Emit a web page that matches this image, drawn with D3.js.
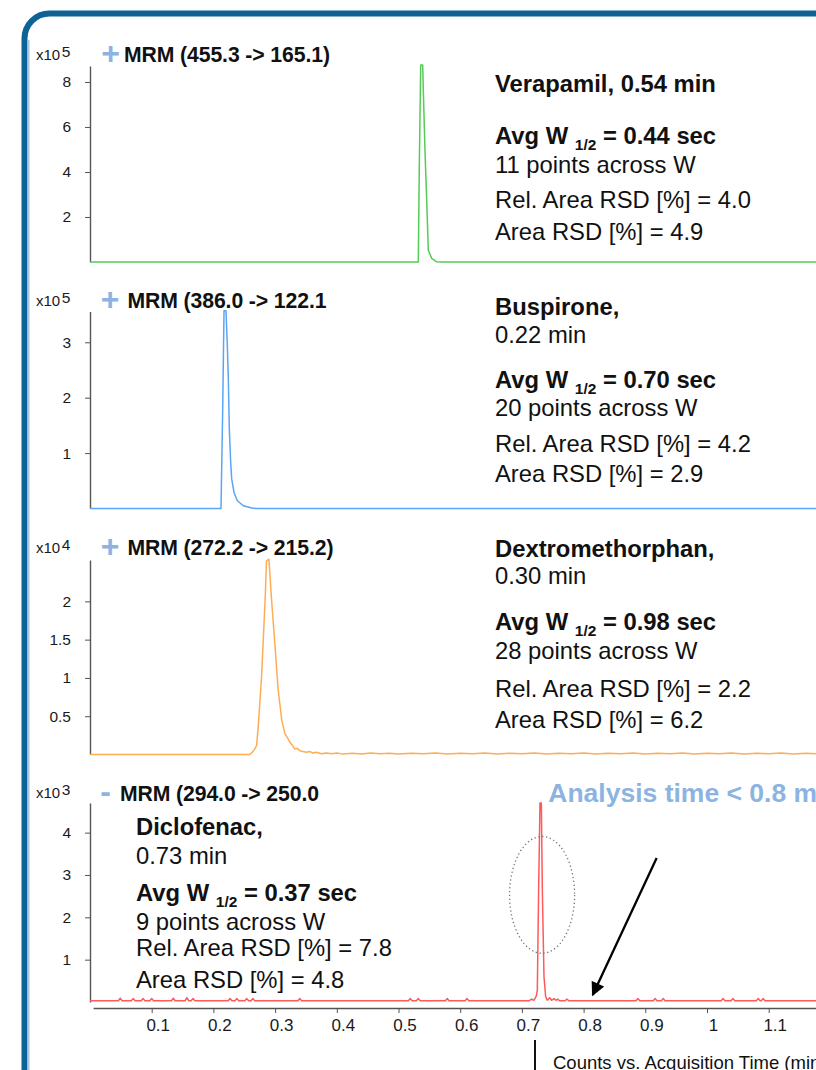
<!DOCTYPE html>
<html><head><meta charset="utf-8">
<script src="https://cdn.jsdelivr.net/npm/d3@7"></script>
<style>body{margin:0;background:#fff}svg{display:block}</style>
</head><body><svg id="c" width="816" height="1070"></svg>
<script>
const FONT = '"Liberation Sans", Arial, Helvetica, sans-serif';

// ---- data ----
const xTicks = [0.1, 0.2, 0.3, 0.4, 0.5, 0.6, 0.7, 0.8, 0.9, 1, 1.1];
const transitions = ["MRM (455.3 -> 165.1)", "MRM (386.0 -> 122.1", "MRM (272.2 -> 215.2)", "MRM (294.0 -> 250.0"];
const polarity = ["+", "+", "+", "-"];
const exponents = ["5", "5", "4", "3"];
const yTicks = [[2, 4, 6, 8], [1, 2, 3], [0.5, 1, 1.5, 2], [1, 2, 3, 4]];
const yMax = [8.71, 3.556, 2.54, 4.70];
const lineColors = ["#55cc55", "#5aa5f5", "#ffad55", "#ff5a5a"];

const verapamil = [[0, 0], [0.5321, 0], [0.5337, 4.24], [0.5360, 8.76], [0.5392, 8.76], [0.5402, 7.64],
  [0.5429, 4.98], [0.5457, 2.76], [0.5483, 0.53], [0.5538, 0.16], [0.5619, 0.01], [0.57, 0], [1.2, 0]];

const buspirone = [[0, 0], [0.2123, 0], [0.2150, 1.74], [0.2172, 3.57], [0.2204, 3.57], [0.2226, 2.94],
  [0.2242, 2.34], [0.2258, 1.44], [0.2280, 0.83], [0.2297, 0.53], [0.2334, 0.29], [0.2388, 0.14],
  [0.2485, 0.05], [0.2621, 0.01], [0.27, 0], [1.2, 0]];

const dextromethorphan = [[0, 0], [0.259, 0], [0.263, 0.03], [0.267, 0.07], [0.270, 0.12], [0.273, 0.40],
  [0.278, 1.01], [0.284, 2.05], [0.286, 2.53], [0.290, 2.55], [0.294, 2.05], [0.300, 1.40], [0.305, 0.84],
  [0.311, 0.44], [0.316, 0.27], [0.320, 0.22], [0.324, 0.16], [0.328, 0.12], [0.332, 0.07], [0.336, 0.08],
  [0.340, 0.05], [0.345, 0.04], [0.351, 0.03], [0.356, 0.04], [0.361, 0.02], [0.367, 0.03], [0.375, 0.01],
  [0.383, 0.02], [0.392, 0.01], [0.40, 0.02], [0.41, 0.005], [0.425, 0.015], [0.44, 0.005], [0.455, 0.02],
  [0.47, 0.01], [0.485, 0.015], [0.5, 0.005], [0.52, 0.015], [0.54, 0.01], [0.56, 0.02], [0.58, 0.005],
  [0.6, 0.015], [0.62, 0.01], [0.64, 0.02], [0.66, 0.005], [0.68, 0.015], [0.7, 0.01], [0.72, 0.02],
  [0.74, 0.005], [0.76, 0.015], [0.78, 0.01], [0.8, 0.02], [0.82, 0.005], [0.84, 0.015], [0.86, 0.01],
  [0.88, 0.02], [0.9, 0.005], [0.92, 0.015], [0.94, 0.01], [0.96, 0.02], [0.98, 0.005], [1.0, 0.015],
  [1.02, 0.01], [1.04, 0.02], [1.06, 0.005], [1.08, 0.015], [1.1, 0.01], [1.12, 0.02], [1.14, 0.005],
  [1.16, 0.015], [1.18, 0.01], [1.2, 0.015]];

const diclofenac = [[0, 0.03], [0.046, 0.03], [0.049, 0.09], [0.052, 0.03], [0.067, 0.03], [0.070, 0.08],
  [0.073, 0.03], [0.083, 0.03], [0.086, 0.08], [0.089, 0.03], [0.097, 0.03], [0.100, 0.08], [0.103, 0.03],
  [0.132, 0.03], [0.135, 0.09], [0.138, 0.03], [0.154, 0.03], [0.157, 0.10], [0.160, 0.03], [0.164, 0.03],
  [0.167, 0.08], [0.170, 0.03], [0.224, 0.03], [0.227, 0.08], [0.230, 0.03], [0.235, 0.03], [0.238, 0.08],
  [0.241, 0.03], [0.251, 0.03], [0.254, 0.08], [0.257, 0.03], [0.261, 0.03], [0.264, 0.08], [0.267, 0.03],
  [0.337, 0.03], [0.340, 0.08], [0.343, 0.03], [0.516, 0.03], [0.519, 0.08], [0.522, 0.03], [0.529, 0.03],
  [0.532, 0.08], [0.535, 0.03], [0.576, 0.03], [0.579, 0.08], [0.582, 0.03], [0.608, 0.03], [0.611, 0.08],
  [0.614, 0.03], [0.712, 0.03], [0.716, 0.07], [0.719, 0.04], [0.7212, 0.08], [0.7235, 0.15], [0.725, 0.28],
  [0.7271, 2.65], [0.7293, 4.70], [0.7315, 4.70], [0.7331, 2.65], [0.7358, 0.60], [0.7385, 0.13],
  [0.741, 0.04], [0.745, 0.10], [0.748, 0.04], [0.752, 0.08], [0.755, 0.04], [0.758, 0.07], [0.761, 0.03],
  [0.770, 0.03], [0.773, 0.07], [0.776, 0.03], [0.885, 0.03], [0.888, 0.08], [0.891, 0.03], [0.913, 0.03],
  [0.916, 0.08], [0.919, 0.03], [0.926, 0.03], [0.929, 0.08], [0.932, 0.03], [1.023, 0.03], [1.026, 0.08],
  [1.029, 0.03], [1.039, 0.03], [1.042, 0.08], [1.045, 0.03], [1.080, 0.03], [1.083, 0.08], [1.086, 0.03],
  [1.088, 0.03], [1.091, 0.08], [1.094, 0.03], [1.2, 0.03]];

const series = [verapamil, buspirone, dextromethorphan, diclofenac];

const verapamilText = ["Verapamil, 0.54 min", ["Avg W ", "1/2", " = 0.44 sec"], "11 points across W", "Rel. Area RSD [%] = 4.0", "Area RSD [%] = 4.9"];
const buspironeText = ["Buspirone,", "0.22 min", ["Avg W ", "1/2", " = 0.70 sec"], "20 points across W", "Rel. Area RSD [%] = 4.2", "Area RSD [%] = 2.9"];
const dextroText = ["Dextromethorphan,", "0.30 min", ["Avg W ", "1/2", " = 0.98 sec"], "28 points across W", "Rel. Area RSD [%] = 2.2", "Area RSD [%] = 6.2"];
const diclofenacText = ["Diclofenac,", "0.73 min", ["Avg W ", "1/2", " = 0.37 sec"], "9 points across W", "Rel. Area RSD [%] = 7.8", "Area RSD [%] = 4.8"];
const panelTexts = [verapamilText, buspironeText, dextroText, diclofenacText];

// ---- layout ----
const panelZero = [262, 508.5, 754.5, 1002];
const panelTop = [66, 311.5, 560, 803];
const titleX = [124, 127.5, 127.5, 120];
const titleY = [62, 308, 555, 800.5];
const polX = [110.5, 110, 110, 105.5];
const expY = [60, 306, 553, 798];
const textX = [495, 495, 495, 136];
const textY = [[92, 144, 173, 208, 240], [315, 343, 388, 416, 452, 482], [557, 584, 630, 659, 697, 728], [835, 864, 901, 930, 956, 988]];

const svg = d3.select("#c");
svg.append("rect").attr("width", 816).attr("height", 1070).attr("fill", "#fff");

// frame
svg.append("rect").attr("x", 24.5).attr("y", 13.5).attr("width", 900).attr("height", 1200)
  .attr("rx", 25).attr("fill", "none").attr("stroke", "#0d6296").attr("stroke-width", 6);
svg.append("line").attr("x1", 28.5).attr("x2", 28.5).attr("y1", 40).attr("y2", 1070)
  .attr("stroke", "#a9c8e2").attr("stroke-width", 2);

const x = d3.scaleLinear().domain([0, 1.2]).range([90, 830.4]);

series.forEach((data, i) => {
  const y = d3.scaleLinear().domain([0, yMax[i]]).range([panelZero[i], panelTop[i]]);
  const g = svg.append("g");
  // y axis
  const ax = g.append("g").attr("transform", `translate(${x(0)},0)`)
    .call(d3.axisLeft(y).tickValues(yTicks[i]).tickSize(5).tickSizeOuter(0).tickPadding(14).tickFormat(d3.format("~g")));
  ax.select(".domain").attr("stroke", "#555").attr("stroke-width", 1.4);
  ax.selectAll(".tick line").attr("stroke", "#555");
  ax.selectAll(".tick text").attr("font-family", FONT).attr("font-size", 15.5).attr("fill", "#1a1a1a");
  // exponent label
  const ex = g.append("text").attr("x", 36).attr("y", expY[i]).attr("font-family", FONT).attr("fill", "#1a1a1a");
  ex.append("tspan").attr("font-size", 15).text("x10");
  ex.append("tspan").attr("font-size", 15.5).attr("dy", -3).attr("dx", 1.5).text(exponents[i]);
  // polarity + title
  g.append("text").attr("x", polX[i]).attr("y", titleY[i] + 1.5).attr("text-anchor", "middle")
    .attr("font-family", FONT).attr("font-weight", "bold").attr("font-size", 32).attr("fill", "#8db3e2").text(polarity[i]);
  g.append("text").attr("x", titleX[i]).attr("y", titleY[i]).attr("font-family", FONT)
    .attr("font-weight", "bold").attr("font-size", 21.2).attr("letter-spacing", -0.1).attr("fill", "#111").text(transitions[i]);
  // trace
  g.append("path").datum(data).attr("fill", "none").attr("stroke", lineColors[i]).attr("stroke-width", 1.5)
    .attr("stroke-linejoin", "round")
    .attr("d", d3.line().x(d => x(d[0])).y(d => y(d[1])));
  // annotation text
  panelTexts[i].forEach((ln, j) => {
    const bold = (j === 0) || Array.isArray(ln);
    const t = g.append("text").attr("x", textX[i]).attr("y", textY[i][j]).attr("font-family", FONT)
      .attr("font-size", 23.8).attr("fill", "#111").attr("font-weight", bold ? "bold" : "normal");
    if (Array.isArray(ln)) {
      t.append("tspan").text(ln[0]);
      t.append("tspan").attr("font-size", 15.5).attr("dy", 6).text(ln[1]);
      t.append("tspan").attr("dy", -6).text(ln[2]);
    } else t.text(ln);
  });
});

// x axis
const xa = x.copy().domain([0.005, 1.2]).range([x(0.005), x(1.2)]);
const xAxis = svg.append("g").attr("transform", "translate(0,1008)")
  .call(d3.axisBottom(xa).tickValues(xTicks).tickSize(5).tickSizeOuter(0).tickPadding(6).tickFormat(d3.format("~g")));
xAxis.select(".domain").attr("stroke", "#555").attr("stroke-width", 1.4);
xAxis.selectAll(".tick line").attr("stroke", "#555");
xAxis.selectAll(".tick text").attr("font-family", FONT).attr("font-size", 17).attr("fill", "#1a1a1a").attr("dx", 6);

// annotations on the Diclofenac panel (data units)
const y4 = d3.scaleLinear().domain([0, yMax[3]]).range([panelZero[3], panelTop[3]]);
const ellipseCenter = [0.7327, 2.53], ellipseRadius = [0.0527, 1.38];
svg.append("ellipse").attr("cx", x(ellipseCenter[0])).attr("cy", y4(ellipseCenter[1]))
  .attr("rx", x(ellipseRadius[0]) - x(0)).attr("ry", y4(0) - y4(ellipseRadius[1]))
  .attr("fill", "none").attr("stroke", "#777").attr("stroke-width", 1.3).attr("stroke-dasharray", "1.3,2.6");

const arrowFrom = [0.9184, 3.40], arrowTo = [0.8147, 0.165];
svg.append("defs").append("marker").attr("id", "ah").attr("viewBox", "0 0 10 10").attr("refX", 9).attr("refY", 5)
  .attr("markerWidth", 6.5).attr("markerHeight", 6).attr("markerUnits", "strokeWidth").attr("orient", "auto")
  .append("path").attr("d", "M0,0 L10,5 L0,10 Z").attr("fill", "#000");
svg.append("line").attr("x1", x(arrowFrom[0])).attr("y1", y4(arrowFrom[1]))
  .attr("x2", x(arrowTo[0])).attr("y2", y4(arrowTo[1]))
  .attr("stroke", "#000").attr("stroke-width", 2.3).attr("marker-end", "url(#ah)");

svg.append("text").attr("x", x(0.7428)).attr("y", 802).attr("font-family", FONT).attr("font-weight", "bold")
  .attr("font-size", 26.5).attr("fill", "#8db3e2").text("Analysis time < 0.8 min");

// x-axis title with marker line
svg.append("line").attr("x1", x(0.7212)).attr("x2", x(0.7212)).attr("y1", 1040).attr("y2", 1070)
  .attr("stroke", "#111").attr("stroke-width", 2);
svg.append("text").attr("x", 553).attr("y", 1069).attr("font-family", FONT).attr("font-size", 18.5)
  .attr("fill", "#111").text("Counts vs. Acquisition Time (min)");
</script></body></html>
